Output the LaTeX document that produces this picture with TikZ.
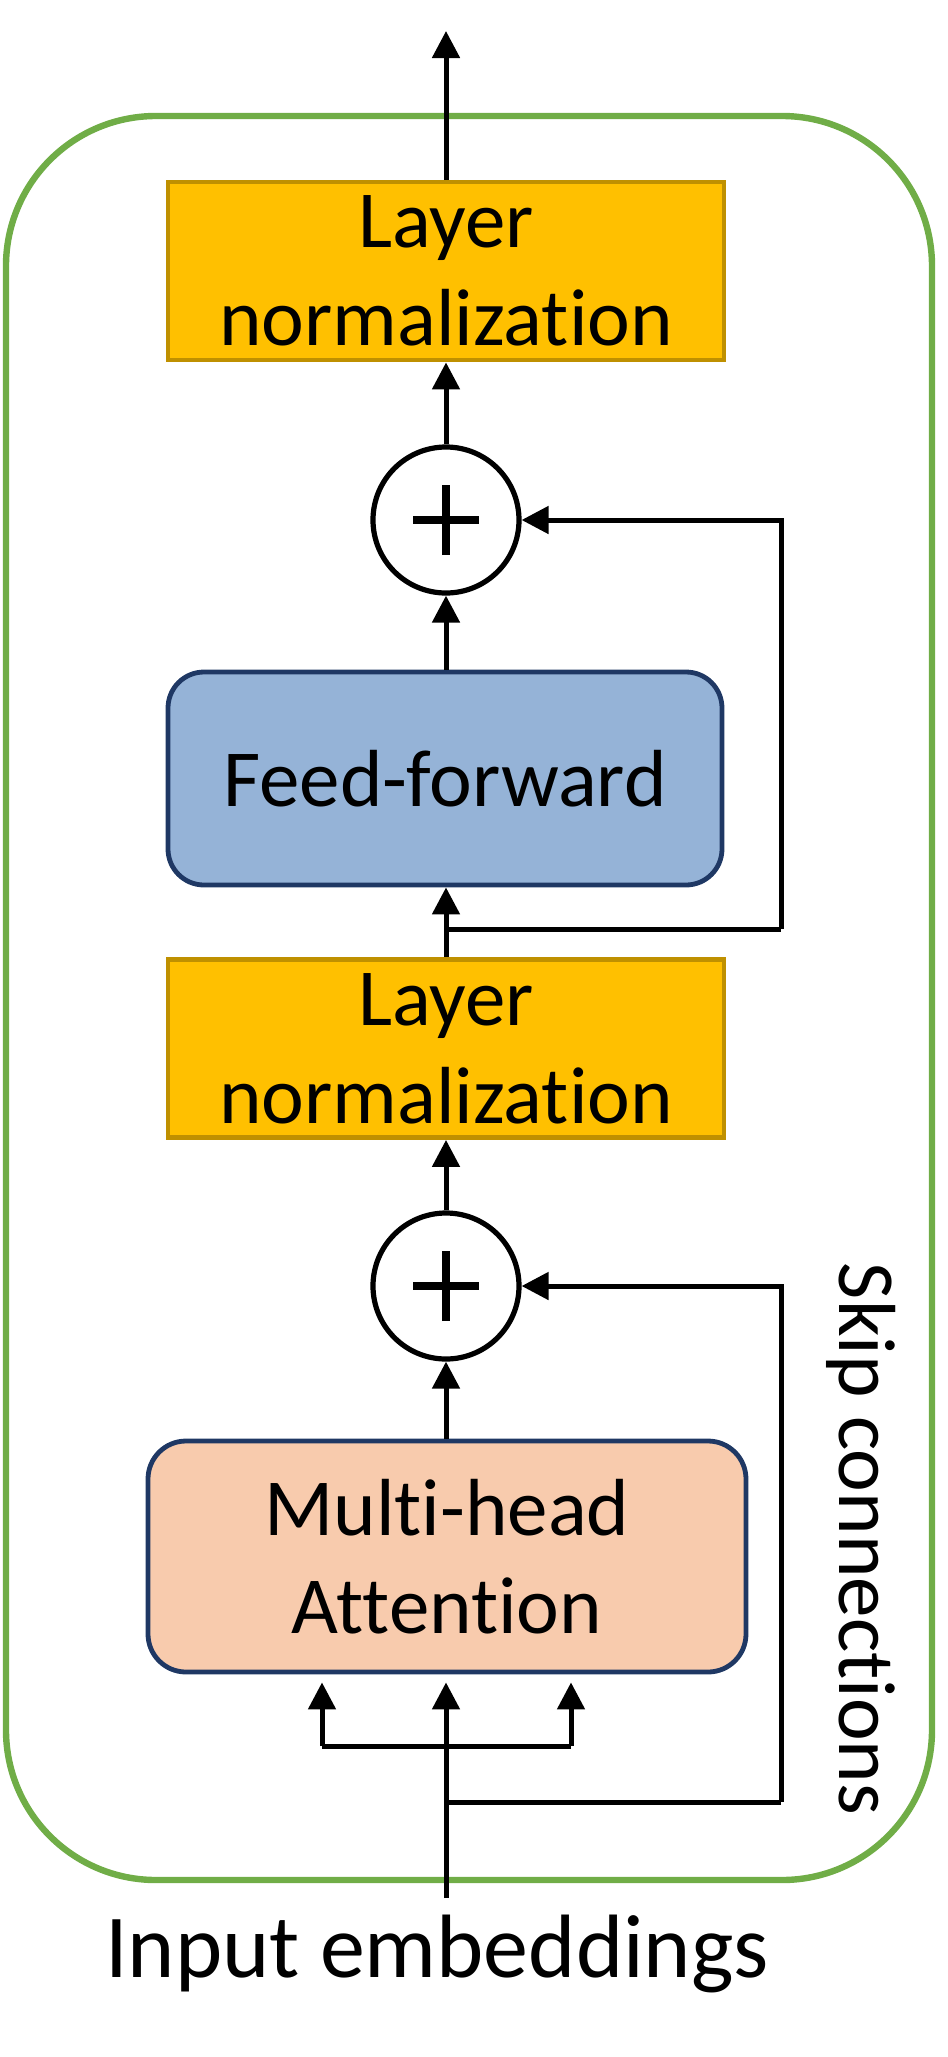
\documentclass[tikz,border=0pt]{standalone}
\usepackage{fontspec}
\setmainfont{Carlito}[Ligatures={NoCommon}]
\usetikzlibrary{arrows.meta}
\definecolor{grn}{HTML}{70AD47}
\definecolor{lnfill}{HTML}{FFC000}
\definecolor{lnborder}{HTML}{BF9000}
\definecolor{fffill}{HTML}{95B3D7}
\definecolor{navy}{HTML}{1F3864}
\definecolor{mhafill}{HTML}{F8CBAD}
\begin{document}
\begin{tikzpicture}[x=0.5pt,y=-0.5pt,
  conn/.style={line width=2.5pt},
  arr/.style={conn,-{Triangle[length=13.5pt,width=13.5pt]}},
  boxtext/.style={inner sep=0pt,align=center,font=\fontsize{40.5}{49}\selectfont},
  lnbox/.style={boxtext,draw=lnborder,fill=lnfill,line width=2.4pt,minimum width=278pt,minimum height=89pt},
  ffbox/.style={boxtext,draw=navy,fill=fffill,line width=2.4pt,minimum width=277pt,minimum height=106.5pt,rounded corners=18pt},
  mhabox/.style={boxtext,draw=navy,fill=mhafill,line width=2.4pt,minimum width=299pt,minimum height=115.5pt,rounded corners=19pt},
  addc/.style={circle,draw,line width=2.6pt,minimum size=73pt,inner sep=0pt,fill=white},
  plus/.style={line width=4pt}
]
\useasboundingbox (0,0) rectangle (948,2057);
% outer block
\draw[grn,line width=3.2pt,rounded corners=75pt] (6,116) rectangle (932,1880);

% nodes
\node[lnbox] (ln1) at (446,271) {Layer\\normalization};
\node[addc] (add1) at (446,520) {};
\node[ffbox] (ff) at (445,778.5) {Feed-forward};
\node[lnbox] (ln2) at (446,1048.5) {Layer\\normalization};
\node[addc] (add2) at (446,1286) {};
\node[mhabox] (mha) at (447,1556.5) {Multi-head\\Attention};

% plus signs
\foreach \c in {add1,add2}{
  \draw[plus] ([xshift=-16.5pt]\c.center) -- ([xshift=16.5pt]\c.center);
  \draw[plus] ([yshift=-17.5pt]\c.center) -- ([yshift=17.5pt]\c.center);
}

% coordinates
\coordinate (out) at (446,31);
\coordinate (in) at (446,1898);
\coordinate (j1) at (446,929);
\coordinate (s1) at (781,929);
\coordinate (j2) at (446,1802);
\coordinate (s2) at (781,1802);
\coordinate (bl) at (322,1746);
\coordinate (br) at (571,1746);

% connectors
\draw[arr] (ln1.north) -- (out);
\draw[arr] (add1.north) -- (ln1.south);
\draw[arr] (add1.south |- ff.north) -- (add1.south);
\draw[arr] (ln2.north) -- (ln2.north |- ff.south);
\draw[conn] (j1) -- (s1);
\draw[arr] (s1) |- (add1.east);
\draw[arr] (add2.north) -- (ln2.south);
\draw[arr] (add2.south |- mha.north) -- (add2.south);
\draw[arr,shorten >=4pt] (in) -- (in |- mha.south);
\draw[conn] (bl) -- (br);
\draw[arr,shorten >=4pt] (bl) -- (bl |- mha.south);
\draw[arr,shorten >=4pt] (br) -- (br |- mha.south);
\draw[conn] (j2) -- (s2);
\draw[arr] (s2) |- (add2.east);

% labels
\node[font=\fontsize{45}{54}\selectfont,anchor=base,inner sep=0pt] (inlab) at (437,1977) {Input embeddings};
\node[font=\fontsize{40.5}{49}\selectfont,rotate=-90,anchor=base,inner sep=0pt] (skiplab) at (839,1539) {Skip connections};
\end{tikzpicture}
\end{document}
